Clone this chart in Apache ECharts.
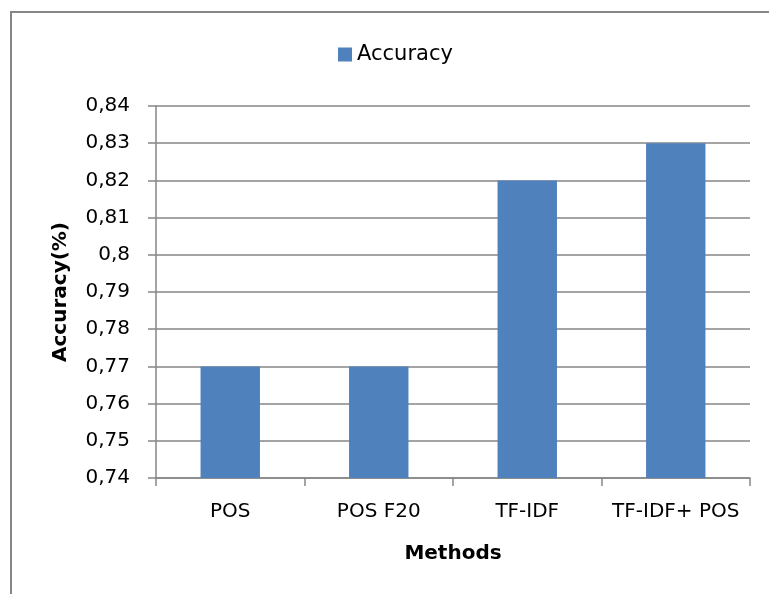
<!DOCTYPE html>
<html><head><meta charset="utf-8">
<script src="https://cdn.jsdelivr.net/npm/echarts@6/dist/echarts.min.js"></script>
<style>html,body{margin:0;padding:0;background:#fff;overflow:hidden}#c{width:769px;height:594px}</style>
</head><body><div id="c"></div>
<script>
const categories = ['POS', 'POS F20', 'TF-IDF', 'TF-IDF+ POS'];
const accuracy = [0.77, 0.77, 0.82, 0.83];
const seriesName = 'Accuracy';
const yMin = 0.74, yMax = 0.84, yStep = 0.01;

const FONT = 'DejaVu Sans';
const chart = echarts.init(document.getElementById('c'));
chart.setOption({
  animation: false,
  backgroundColor: '#fff',
  textStyle: { fontFamily: FONT },
  graphic: [{
    type: 'rect', silent: true,
    shape: { x: 10, y: 11, width: 759, height: 2 },
    style: { fill: '#868686' }
  }, {
    type: 'rect', silent: true,
    shape: { x: 10, y: 11, width: 2, height: 583 },
    style: { fill: '#868686' }
  }],
  legend: {
    data: [seriesName], top: 39, left: 333,
    itemWidth: 14, itemHeight: 14, itemGap: 7,
    icon: 'rect',
    textStyle: { fontFamily: FONT, fontSize: 21, color: '#000' }
  },
  grid: { left: 156, right: 19, top: 106, bottom: 116 },
  xAxis: {
    type: 'category', data: categories,
    name: 'Methods', nameLocation: 'middle', nameGap: 66,
    nameTextStyle: { fontFamily: FONT, fontSize: 20, fontWeight: 'bold', color: '#000' },
    axisLine: { lineStyle: { color: '#868686', width: 1.5 } },
    axisTick: { show: true, length: 8, lineStyle: { color: '#868686', width: 1.5 } },
    axisLabel: { fontFamily: FONT, fontSize: 20, color: '#000', margin: 24, interval: 0 },
    boundaryGap: true
  },
  yAxis: {
    type: 'value', min: yMin, max: yMax, interval: yStep,
    name: 'Accuracy(%)', nameLocation: 'middle', nameGap: 85, nameRotate: 90,
    nameTextStyle: { fontFamily: FONT, fontSize: 20, fontWeight: 'bold', color: '#000' },
    axisLine: { show: true, lineStyle: { color: '#868686', width: 1.5 } },
    axisTick: { show: true, length: 8, lineStyle: { color: '#868686', width: 1.5 } },
    splitLine: { lineStyle: { color: '#868686', width: 1.5 } },
    axisLabel: {
      fontFamily: FONT, fontSize: 20, color: '#000', margin: 26,
      formatter: v => String(parseFloat(v.toFixed(2))).replace('.', ',')
    }
  },
  series: [{
    name: seriesName, type: 'bar', data: accuracy,
    barWidth: '40%',
    itemStyle: { color: '#4F81BD' }
  }]
});
</script></body></html>
